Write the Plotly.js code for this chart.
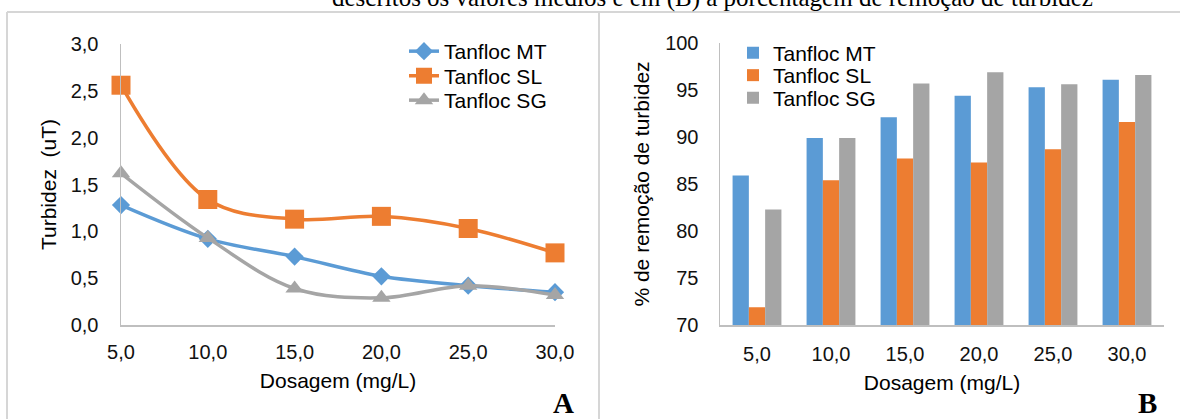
<!DOCTYPE html>
<html>
<head>
<meta charset="utf-8">
<script src="https://cdn.plot.ly/plotly-3.0.1.min.js"></script>
<style>
  html, body { margin: 0; padding: 0; background: #ffffff; }
  #chart { width: 1180px; height: 419px; }
</style>
</head>
<body>
<div id="chart"></div>
<script>
// ---- Data ----
const dosagem = [5, 10, 15, 20, 25, 30];
const dosagemLabels = ["5,0", "10,0", "15,0", "20,0", "25,0", "30,0"];
const seriesNames = ["Tanfloc MT", "Tanfloc SL", "Tanfloc SG"];

// (A) Turbidez (uT)
const turbMT = [1.28, 0.92, 0.73, 0.52, 0.42, 0.35];
const turbSL = [2.56, 1.34, 1.13, 1.16, 1.03, 0.77];
const turbSG = [1.62, 0.93, 0.39, 0.29, 0.42, 0.32];

// (B) % de remoção de turbidez
const remMT = [85.9, 89.9, 92.1, 94.4, 95.3, 96.1];
const remSL = [71.9, 85.4, 87.7, 87.3, 88.7, 91.6];
const remSG = [82.3, 89.9, 95.7, 96.9, 95.6, 96.6];

const captionText = "descritos os valores médios e em (B) a porcentagem de remoção de turbidez";

// ---- Styles ----
const W = 1180, H = 419;
const px = x => x / W;
const py = y => 1 - y / H;
const colors = ["#5B9BD5", "#ED7D31", "#A5A5A5"];
const sans = "Liberation Sans, Arial, sans-serif";
const serif = "Liberation Serif, Times New Roman, serif";
const axisGray = "#BFBFBF";

const lineData = [turbMT, turbSL, turbSG];
const symbols = ["diamond", "square", "triangle-up"];
const sizes = [14, 19, 16];

const traces = [];
lineData.forEach((ys, i) => {
  traces.push({
    type: "scatter", mode: "lines+markers",
    x: dosagem, y: ys, name: seriesNames[i],
    xaxis: "x", yaxis: "y", legend: "legend" + (i === 0 ? "" : (i + 1)),
    line: { color: colors[i], width: 3.5, shape: "spline", smoothing: 1 },
    marker: { color: colors[i], symbol: symbols[i], size: sizes[i], line: { width: 0 } },
    cliponaxis: false
  });
});
const barData = [remMT, remSL, remSG];
barData.forEach((ys, i) => {
  traces.push({
    type: "bar", x: dosagemLabels, y: ys, name: seriesNames[i],
    xaxis: "x2", yaxis: "y2", legend: "legend" + (i + 4),
    marker: { color: colors[i], line: { width: 0 } }
  });
});

const tickFont = { family: sans, size: 20, color: "#111111" };
const titleFont = { family: sans, size: 21, color: "#000000" };
const legFont = { family: sans, size: 21, color: "#000000" };

function leg(x, yTop) {
  return {
    x: px(x), y: py(yTop), xanchor: "left", yanchor: "top",
    bgcolor: "rgba(0,0,0,0)", borderwidth: 0,
    font: legFont, itemwidth: 30
  };
}

const layout = {
  width: W, height: H,
  margin: { l: 0, r: 0, t: 0, b: 0 },
  paper_bgcolor: "#ffffff", plot_bgcolor: "rgba(0,0,0,0)",
  separators: ",.",
  showlegend: true,
  barmode: "group", bargap: 0.34, bargroupgap: 0,
  xaxis: {
    domain: [px(121), px(555)], range: [5, 30], anchor: "y",
    tickvals: dosagem, ticktext: dosagemLabels,
    showgrid: false, zeroline: false,
    showline: true, linecolor: axisGray, linewidth: 1.5,
    ticks: "", ticklabelstandoff: 8,
    tickfont: tickFont,
    title: { text: "Dosagem (mg/L)", font: titleFont, standoff: 12 }
  },
  yaxis: {
    domain: [py(325), py(44)], range: [0, 3], anchor: "x",
    tick0: 0, dtick: 0.5, tickformat: ".1f",
    showgrid: false, zeroline: false,
    showline: true, linecolor: axisGray, linewidth: 1.5,
    ticks: "", ticklabelstandoff: 17,
    tickfont: tickFont,
    title: { text: "Turbidez  (uT)", font: titleFont, standoff: 8 }
  },
  xaxis2: {
    domain: [px(720), px(1164)], range: [-0.5, 5.5], anchor: "y2",
    type: "category",
    showgrid: false, zeroline: false,
    showline: true, linecolor: axisGray, linewidth: 1.5,
    ticks: "", ticklabelstandoff: 10,
    tickfont: tickFont,
    title: { text: "Dosagem (mg/L)", font: titleFont, standoff: 12 }
  },
  yaxis2: {
    domain: [py(325), py(43)], range: [70, 100], anchor: "x2",
    tick0: 70, dtick: 5,
    showgrid: false, zeroline: false,
    showline: true, linecolor: axisGray, linewidth: 1.5,
    ticks: "", ticklabelstandoff: 16,
    tickfont: tickFont,
    title: { text: "% de remoção de turbidez", font: titleFont, standoff: 10 }
  },
  legend: leg(404, 31),
  legend2: leg(404, 55.5),
  legend3: leg(404, 80),
  legend4: leg(733, 32.5),
  legend5: leg(733, 55),
  legend6: leg(733, 77.5),
  shapes: [
    { type: "line", xref: "paper", yref: "paper", x0: px(7), x1: 1, y0: py(12), y1: py(12),
      line: { color: "#D6D6D6", width: 2 } },
    { type: "line", xref: "paper", yref: "paper", x0: px(7), x1: px(7), y0: py(12), y1: 0,
      line: { color: "#D6D6D6", width: 2 } },
    { type: "line", xref: "paper", yref: "paper", x0: px(599), x1: px(599), y0: py(12), y1: 0,
      line: { color: "#D6D6D6", width: 2 } }
  ],
  annotations: [
    { text: captionText, xref: "paper", yref: "paper", x: px(712), y: py(-2),
      xanchor: "center", yanchor: "middle", showarrow: false,
      font: { family: serif, size: 25, color: "#000000" } },
    { text: "<b>A</b>", xref: "paper", yref: "paper", x: px(563), y: py(403),
      xanchor: "center", yanchor: "middle", showarrow: false,
      font: { family: serif, size: 29, color: "#000000" } },
    { text: "<b>B</b>", xref: "paper", yref: "paper", x: px(1147), y: py(403),
      xanchor: "center", yanchor: "middle", showarrow: false,
      font: { family: serif, size: 29, color: "#000000" } }
  ]
};

Plotly.newPlot("chart", traces, layout, { displayModeBar: false, staticPlot: true });
</script>
</body>
</html>
